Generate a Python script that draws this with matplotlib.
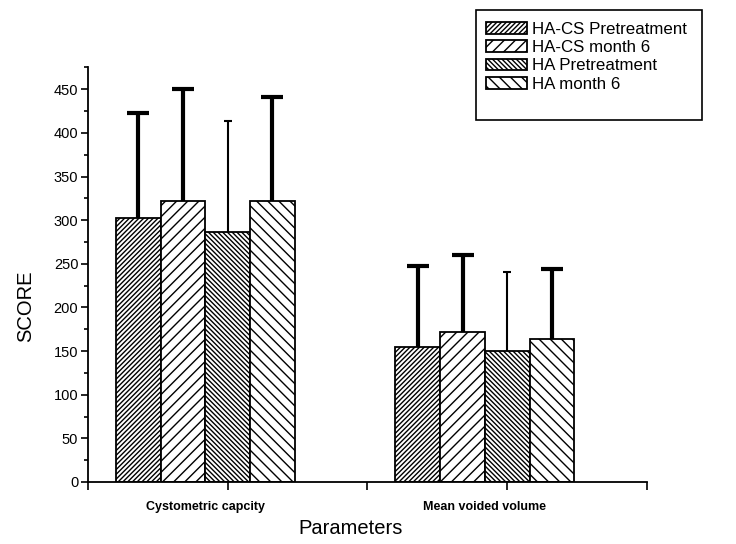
import matplotlib
matplotlib.use("Agg")
import matplotlib.pyplot as plt
from matplotlib.patches import Rectangle
import numpy as np

plt.rcParams['font.family'] = ['Liberation Sans', 'DejaVu Sans']
plt.rcParams['hatch.linewidth'] = 1.0

categories = ["Cystometric capcity", "Mean voided volume"]
series = ["HA-CS Pretreatment", "HA-CS month 6", "HA Pretreatment", "HA month 6"]
means = {
    "HA-CS Pretreatment": [302, 155],
    "HA-CS month 6": [322, 172],
    "HA Pretreatment": [286, 150],
    "HA month 6": [322, 164],
}
upper_err = {
    "HA-CS Pretreatment": [121, 93],
    "HA-CS month 6": [128, 88],
    "HA Pretreatment": [128, 91],
    "HA month 6": [119, 80],
}
hatches = ["///////", "///", "\\\\\\\\\\\\\\", "\\\\\\"]
err_lw = [3, 3, 1.5, 3]
err_cap = [8, 8, 3, 8]
yticks = [0, 50, 100, 150, 200, 250, 300, 350, 400, 450]

fig = plt.figure(figsize=(7.36, 5.44), dpi=100)
ax = fig.add_axes([0.1196, 0.114, 0.7594, 0.762])

cat_pos = np.arange(1, len(categories) + 1)
w = 0.16
handles = []
for i, s in enumerate(series):
    x = cat_pos + (i - 2) * w
    b = ax.bar(x, means[s], width=w, color="white", edgecolor="black",
               linewidth=1.3, hatch=hatches[i], label=s, zorder=2)
    handles.append(b)
    eb = ax.errorbar(x, means[s], yerr=[np.zeros(len(x)), upper_err[s]], fmt="none",
                     ecolor="black", elinewidth=err_lw[i], capsize=err_cap[i],
                     capthick=err_lw[i], zorder=1)
    caps = eb[1]
    if len(caps) >= 2:
        caps[0].set_visible(False)

ax.set_xlim(0.5, 2.5)
ax.set_ylim(0, 475)
ax.spines['top'].set_visible(False)
ax.spines['right'].set_visible(False)
ax.spines['left'].set_linewidth(1.3)
ax.spines['bottom'].set_linewidth(1.3)

ax.set_yticks(yticks)
ax.set_yticks(np.arange(25, 476, 50), minor=True)
ax.tick_params(axis='y', which='major', length=5, width=1.2, labelsize=10.5, pad=2)
ax.tick_params(axis='y', which='minor', length=3, width=1.2)

# category labels centred under groups, ticks at category positions
ax.set_xticks(cat_pos - w / 2)
ax.set_xticklabels(categories, fontsize=9, fontweight='bold')
ax.tick_params(axis='x', which='major', length=0, pad=14)
ax.set_xticks([0.5, 1, 1.5, 2, 2.5], minor=True)
ax.tick_params(axis='x', which='minor', length=6, width=1.2)

ax.set_xlabel("Parameters", fontsize=14.5)
ax.xaxis.set_label_coords(0.47, -0.09)
ax.set_ylabel("SCORE", fontsize=14.5)
ax.yaxis.set_label_coords(-0.095, 0.425)

fig.add_artist(Rectangle((0.6467, 0.7794), 0.307, 0.2022, transform=fig.transFigure,
                         facecolor="white", edgecolor="black", linewidth=1.2))
fig.legend(handles=handles, labels=series, loc="upper left",
           bbox_to_anchor=(0.644, 0.982), frameon=False, fontsize=12.2,
           handlelength=2.4, handleheight=0.7, handletextpad=0.35,
           labelspacing=0.2, borderpad=0.2)

fig.savefig("out.png", dpi=100)
